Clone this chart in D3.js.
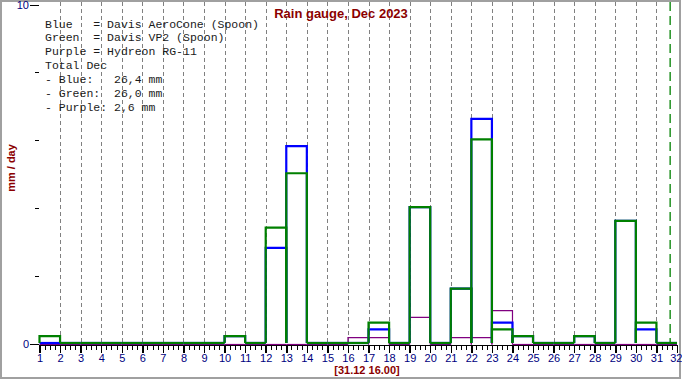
<!DOCTYPE html>
<html lang="en">
<head>
    <meta charset="UTF-8">
    <title>rain gauge</title>
    <script src="https://d3js.org/d3.v7.min.js"></script>
    <style>
        body { margin: 0; background: #fff; }
        .axis text { font-family: "Liberation Sans", Arial, sans-serif; font-size: 11px; fill: #000080; }
        .axis line { stroke: #000; shape-rendering: crispEdges; }
        .legend text { font-family: "Liberation Mono", "Courier New", monospace; font-size: 11.5px; fill: #1a1a1a; white-space: pre; }
    </style>
</head>
<body>
<script>
    const width = 682
    const height = 380

    // daily rain, mm
    const days = d3.range(1, 32)
    const blue = [0, 0, 0, 0, 0, 0, 0, 0, 0, 0.2, 0, 2.8, 5.8, 0, 0, 0, 0.4, 0, 4.0, 0, 1.6, 6.6, 0.6, 0.2, 0, 0, 0.2, 0, 3.6, 0.4, 0]
    const green = [0.2, 0, 0, 0, 0, 0, 0, 0, 0, 0.2, 0, 3.4, 5.0, 0, 0, 0, 0.6, 0, 4.0, 0, 1.6, 6.0, 0.4, 0.2, 0, 0, 0.2, 0, 3.6, 0.6, 0]
    const purple = [0, 0, 0, 0, 0, 0, 0, 0, 0, 0, 0, 0, 0, 0, 0, 0.2, 0.2, 0, 0.8, 0, 0.2, 0.2, 1.0, 0, 0, 0, 0, 0, 0, 0, 0]
    const now = 31 + 16 / 24
    const xTicks = d3.range(1, 33)
    const yTicks = [0, 2, 4, 6, 8, 10]
    const legendLines = [
        'Blue   = Davis AeroCone (Spoon)',
        'Green  = Davis VP2 (Spoon)',
        'Purple = Hydreon RG-11',
        'Total Dec',
        '- Blue:   26,4 mm',
        '- Green:  26,0 mm',
        '- Purple: 2,6 mm'
    ]

    const x = d3.scaleLinear().domain([1, 32]).range([39.5, 677])
    const y = d3.scaleLinear().domain([0, 10]).range([344, 4.5])

    const svg = d3.select("body").append("svg")
        .attr("width", width)
        .attr("height", height)

    svg.append("rect")
        .attr("x", 1).attr("y", 1)
        .attr("width", width - 3).attr("height", height - 3)
        .attr("fill", "none")
        .attr("stroke", "#a0a0a0")
        .attr("stroke-width", 2)

    // grid
    svg.append("g").selectAll("line")
        .data(d3.range(2, 32))
        .join("line")
        .attr("x1", d => Math.round(x(d)) + 0.5)
        .attr("x2", d => Math.round(x(d)) + 0.5)
        .attr("y1", 2).attr("y2", 344)
        .attr("stroke", "#808080")
        .attr("stroke-dasharray", "4,3")

    // x axis
    svg.append("line")
        .attr("x1", x(1)).attr("x2", x(32))
        .attr("y1", 345.5).attr("y2", 345.5)
        .attr("stroke", "#000")
    svg.append("g").selectAll("line")
        .data(d3.range(1, 32, 0.25).filter(d => d % 1 !== 0))
        .join("line")
        .attr("x1", d => Math.round(x(d)) + 0.5)
        .attr("x2", d => Math.round(x(d)) + 0.5)
        .attr("y1", 345).attr("y2", 350)
        .attr("stroke", "#000")
    const xAxis = d3.axisBottom(x).tickValues(xTicks).tickFormat(d3.format("d")).tickSize(8).tickSizeOuter(0)
    const gx = svg.append("g").attr("class", "axis")
        .attr("transform", "translate(0,345)")
        .call(xAxis)
    gx.select(".domain").remove()
    gx.selectAll("line").attr("stroke-width", 1.5)
    gx.selectAll("text").attr("dy", "0.5em")
    // last label sits against the frame
    gx.selectAll(".tick").filter(d => d === 32).select("text").attr("text-anchor", "end").attr("x", 5)

    // y axis
    const yAxis = d3.axisLeft(y).tickValues(yTicks)
        .tickFormat(d => (d === 0 || d === 10) ? d : "")
        .tickSize(4).tickPadding(2)
    const gy = svg.append("g").attr("class", "axis")
        .attr("transform", "translate(39,0)")
        .call(yAxis)
    gy.select(".domain").remove()
    gy.selectAll(".tick").filter(d => d === 0 || d === 10).select("line").attr("x2", -9)
    gy.selectAll(".tick").filter(d => d === 0 || d === 10).select("text").attr("x", -10)

    // bars, open at the bottom
    function barPath(v, d, off) {
        const x0 = x(d), x1 = x(d + 1), y0 = y(0) + off, yv = y(v) + off
        return "M" + x0 + "," + y0 + "V" + yv + "H" + x1 + "V" + y0
    }
    const series = [
        {vals: purple, color: "#800080", w: 1.2, off: 0.5},
        {vals: blue, color: "#0000ff", w: 2.2, off: -1},
        {vals: green, color: "#008000", w: 2.2, off: -1}
    ]
    series.forEach(s => {
        svg.append("g").selectAll("path")
            .data(days)
            .join("path")
            .attr("d", (d, i) => barPath(s.vals[i], d, s.off))
            .attr("fill", "none")
            .attr("stroke", s.color)
            .attr("stroke-width", s.w)
    })

    // now marker
    svg.append("line")
        .attr("x1", x(now)).attr("x2", x(now))
        .attr("y1", 2).attr("y2", 344)
        .attr("stroke", "#008000")
        .attr("stroke-width", 1.3)
        .attr("stroke-dasharray", "9,5")

    // legend
    svg.append("g").attr("class", "legend")
        .selectAll("text")
        .data(legendLines)
        .join("text")
        .attr("x", 45)
        .attr("y", (d, i) => 27.5 + i * 13.9)
        .text(d => d)

    svg.append("text")
        .text("Rain gauge, Dec 2023")
        .attr("x", 341).attr("y", 18)
        .attr("text-anchor", "middle")
        .attr("font-family", "Liberation Sans, Arial, sans-serif")
        .attr("font-size", 13).attr("font-weight", "bold")
        .attr("fill", "#8b0000")

    svg.append("text")
        .text("[31.12 16.00]")
        .attr("x", 367).attr("y", 374)
        .attr("text-anchor", "middle")
        .attr("font-family", "Liberation Sans, Arial, sans-serif")
        .attr("font-size", 11).attr("font-weight", "bold")
        .attr("fill", "#8b0000")

    svg.append("text")
        .text("mm / day")
        .attr("transform", "translate(15,168) rotate(-90)")
        .attr("text-anchor", "middle")
        .attr("font-family", "Liberation Sans, Arial, sans-serif")
        .attr("font-size", 11).attr("font-weight", "bold")
        .attr("fill", "#8b0000")
</script>
</body>
</html>
